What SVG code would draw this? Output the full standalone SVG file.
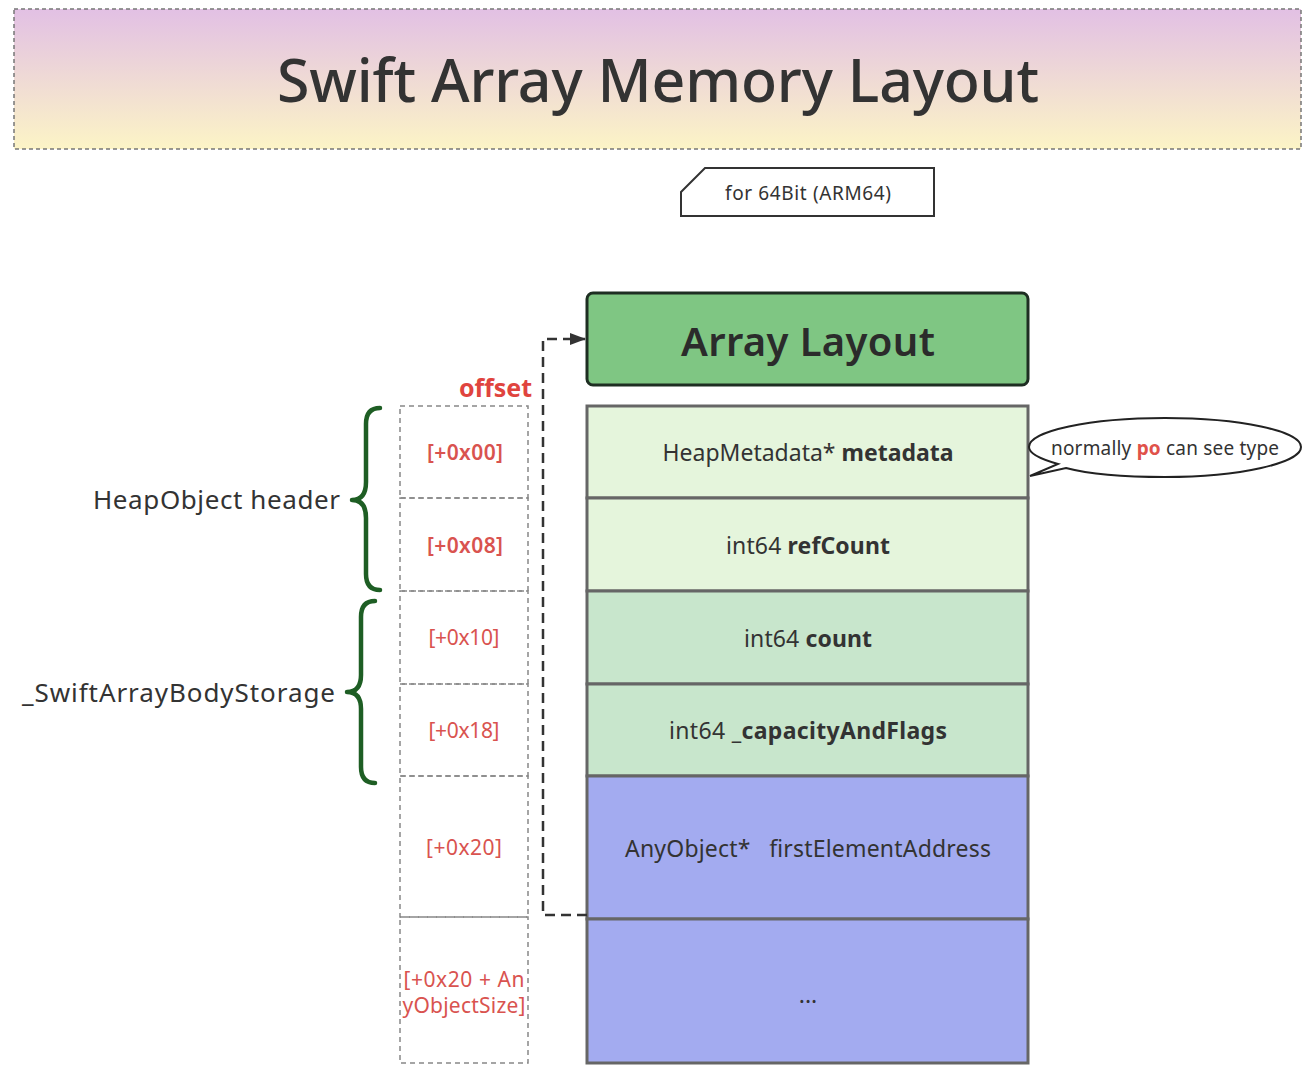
<svg xmlns="http://www.w3.org/2000/svg" width="1310" height="1078" viewBox="0 0 1310 1078">
<defs>
<linearGradient id="tg" x1="0" y1="0" x2="0" y2="1">
<stop offset="0" stop-color="#e2c0e4"/>
<stop offset="1" stop-color="#fcf4c6"/>
</linearGradient>
<marker id="arr" markerWidth="16" markerHeight="14" refX="15" refY="7" orient="auto" markerUnits="userSpaceOnUse">
<path d="M0,1 L16,7 L0,13 Z" fill="#333"/>
</marker>
<style>
text{font-family:"Noto Sans","Liberation Sans",Arial,sans-serif;}
.row{stroke:#666;stroke-width:3;}
.r1{fill:#e5f5dc;}
.r2{fill:#c8e6cc;}
.r3{fill:#a3abf0;}
.cell{fill:none;stroke:#888;stroke-width:1.5;stroke-dasharray:5 4;}
.lbl{font-size:23px;fill:#333;text-anchor:middle;}
.off{font-size:21px;fill:#d9534f;text-anchor:middle;}
.brace{fill:none;stroke:#1e5e24;stroke-width:4.5;stroke-linejoin:round;stroke-linecap:round;}
.side{font-size:26px;fill:#333;text-anchor:end;}
</style>
</defs>
<rect width="1310" height="1078" fill="#fff"/>

<g id="title">
<rect x="14" y="9" width="1287" height="140" fill="url(#tg)" stroke="#777" stroke-width="1.5" stroke-dasharray="4 3"/>
<text x="658" y="102" font-size="59" fill="#333" text-anchor="middle" font-weight="500" textLength="762" lengthAdjust="spacing">Swift Array Memory Layout</text>
</g>

<g id="note">
<path d="M681,192 L705,168 L934,168 L934,216 L681,216 Z" fill="#fff" stroke="#333" stroke-width="2"/>
<text x="808" y="200" font-size="19" fill="#333" text-anchor="middle" textLength="166" lengthAdjust="spacing">for 64Bit (ARM64)</text>
</g>

<g id="header">
<rect x="587" y="293" width="441" height="92" rx="6" fill="#7fc683" stroke="#1e2e22" stroke-width="3"/>
<text x="808" y="356" font-size="40" fill="#2b2b2b" text-anchor="middle" font-weight="600" textLength="254" lengthAdjust="spacing">Array Layout</text>
</g>

<g id="row-metadata">
<rect class="row r1" x="587" y="406" width="441" height="92"/>
<text class="lbl" x="808" y="461" textLength="291" lengthAdjust="spacing">HeapMetadata* <tspan font-weight="bold">metadata</tspan></text>
</g>
<g id="row-refcount">
<rect class="row r1" x="587" y="498" width="441" height="93"/>
<text class="lbl" x="808" y="554" textLength="164" lengthAdjust="spacing">int64 <tspan font-weight="bold">refCount</tspan></text>
</g>
<g id="row-count">
<rect class="row r2" x="587" y="591" width="441" height="93"/>
<text class="lbl" x="808" y="647" textLength="128" lengthAdjust="spacing">int64 <tspan font-weight="bold">count</tspan></text>
</g>
<g id="row-capacity">
<rect class="row r2" x="587" y="684" width="441" height="92"/>
<text class="lbl" x="808" y="739" textLength="278" lengthAdjust="spacing">int64 <tspan font-weight="bold">_capacityAndFlags</tspan></text>
</g>
<g id="row-first">
<rect class="row r3" x="587" y="776" width="441" height="143"/>
<text class="lbl" x="808" y="857" xml:space="preserve" textLength="366" lengthAdjust="spacing">AnyObject*   firstElementAddress</text>
</g>
<g id="row-more">
<rect class="row r3" x="587" y="919" width="441" height="144"/>
<text class="lbl" x="808" y="1003">...</text>
</g>

<g id="offset-label">
<text x="532" y="397" font-size="25" font-weight="bold" fill="#e0443e" text-anchor="end" textLength="73" lengthAdjust="spacing">offset</text>
</g>
<g id="off-00">
<rect class="cell" x="400" y="406" width="128" height="92"/>
<text class="off" x="465" y="460" font-weight="600" textLength="76" lengthAdjust="spacing">[+0x00]</text>
</g>
<g id="off-08">
<rect class="cell" x="400" y="498" width="128" height="93"/>
<text class="off" x="465" y="553" font-weight="600" textLength="76" lengthAdjust="spacing">[+0x08]</text>
</g>
<g id="off-10">
<rect class="cell" x="400" y="591" width="128" height="93"/>
<text class="off" x="464" y="645" textLength="71" lengthAdjust="spacing">[+0x10]</text>
</g>
<g id="off-18">
<rect class="cell" x="400" y="684" width="128" height="92"/>
<text class="off" x="464" y="738" textLength="71" lengthAdjust="spacing">[+0x18]</text>
</g>
<g id="off-20">
<rect class="cell" x="400" y="776" width="128" height="141"/>
<text class="off" x="464" y="855" textLength="76" lengthAdjust="spacing">[+0x20]</text>
</g>
<g id="off-20n">
<rect class="cell" x="400" y="917" width="128" height="146"/>
<text class="off" x="464" y="987" textLength="121" lengthAdjust="spacing">[+0x20 + An</text>
<text class="off" x="464" y="1013" textLength="123" lengthAdjust="spacing">yObjectSize]</text>
</g>

<g id="heapobject-header">
<path class="brace" d="M380,408 Q366,408 366,424 L366,482 Q366,500 352,500 Q366,500 366,518 L366,574 Q366,590 380,590"/>
<text class="side" x="340" y="509" textLength="247" lengthAdjust="spacing">HeapObject header</text>
</g>
<g id="body-storage">
<path class="brace" d="M375,601 Q361,601 361,617 L361,675 Q361,692 347,692 Q361,692 361,709 L361,767 Q361,783 375,783"/>
<text class="side" x="335" y="702" textLength="313" lengthAdjust="spacing">_SwiftArrayBodyStorage</text>
</g>

<g id="callout">
<path d="M1165,418 C1240,418 1301,431 1301,447 C1301,463 1240,477 1165,477 C1120,477 1085,473 1066,468 L1030,476 L1058,464 C1040,459 1029,453 1029,447 C1029,431 1090,418 1165,418 Z" fill="#fff" stroke="#222" stroke-width="2"/>
<text x="1165" y="455" font-size="19" fill="#333" text-anchor="middle" textLength="228" lengthAdjust="spacing">normally <tspan fill="#e0524a" font-weight="bold">po</tspan> can see type</text>
</g>

<g id="connectors">
<path d="M587,915 L543,915 L543,339 L585,339" fill="none" stroke="#333" stroke-width="2.5" stroke-dasharray="10 6" marker-end="url(#arr)"/>
</g>
</svg>
